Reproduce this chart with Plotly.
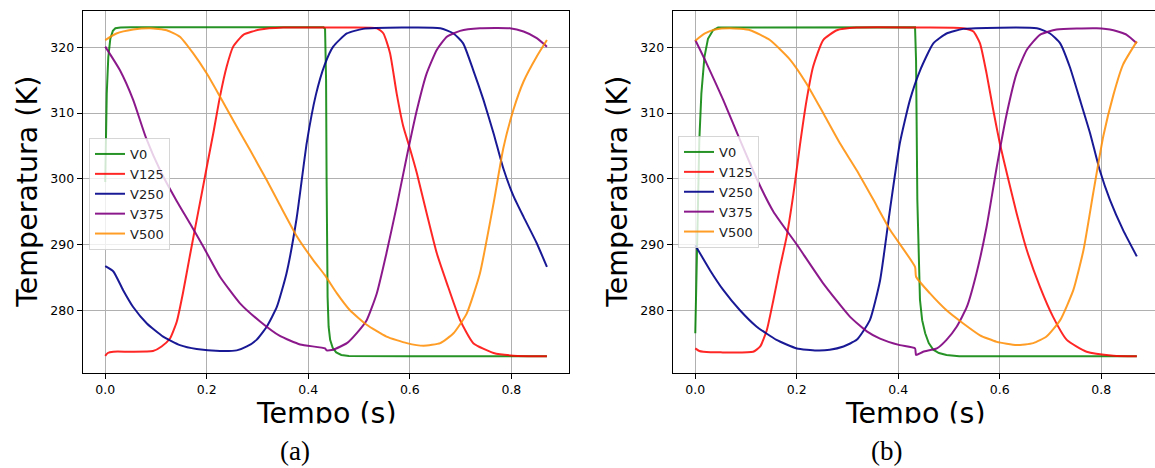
import plotly.graph_objects as go

# ---------------- data: panel (a) ----------------
t_a_v0 = [0, 0.001, 0.003, 0.006, 0.01, 0.015, 0.02, 0.03, 0.05, 0.2, 0.43, 0.433, 0.435, 0.436, 0.437, 0.438, 0.44, 0.443, 0.448, 0.455, 0.465, 0.48, 0.6, 0.87]
T_a_v0 = [299.5, 305, 313, 318.5, 321.3, 322.5, 322.9, 323, 323.05, 323.05, 323.05, 322.8, 315, 300, 290, 282, 277.5, 275.5, 274.3, 273.6, 273.2, 273.05, 273, 273]

t_a_v125 = [0, 0.005, 0.016, 0.05, 0.094, 0.111, 0.1275, 0.141, 0.153, 0.165, 0.177, 0.189, 0.2, 0.213, 0.226, 0.239, 0.252, 0.272, 0.305, 0.351, 0.45, 0.535, 0.548, 0.561, 0.574, 0.587, 0.599, 0.614, 0.633, 0.653, 0.673, 0.699, 0.725, 0.765, 0.804, 0.87]
T_a_v125 = [273.05, 273.5, 273.7, 273.7, 273.8, 274.5, 275.7, 278.3, 282.6, 287.6, 292.5, 297.3, 301.8, 307, 312.5, 317, 320.1, 321.9, 322.7, 323, 323, 322.9, 322.1, 319.1, 313, 308, 304.9, 300.8, 294.8, 288.7, 284.1, 278.5, 275, 273.5, 273.1, 273]

t_a_v250 = [0, 0.016, 0.035, 0.055, 0.082, 0.114, 0.147, 0.18, 0.226, 0.259, 0.279, 0.298, 0.318, 0.338, 0.357, 0.377, 0.397, 0.415, 0.432, 0.449, 0.476, 0.508, 0.66, 0.686, 0.705, 0.725, 0.745, 0.765, 0.784, 0.804, 0.824, 0.85, 0.87]
T_a_v250 = [286.7, 285.9, 283.1, 280.5, 278, 276, 274.7, 274.1, 273.8, 273.9, 274.5, 275.5, 277.5, 280.5, 285.6, 294, 305.5, 312.8, 317.3, 320.1, 322.1, 322.8, 322.9, 322.1, 320.6, 316.5, 312, 306.9, 301.6, 297.4, 294.2, 290.2, 286.6]

t_a_v375 = [0, 0.029, 0.055, 0.08, 0.11, 0.141, 0.167, 0.193, 0.226, 0.265, 0.305, 0.344, 0.384, 0.433, 0.436, 0.449, 0.476, 0.495, 0.515, 0.535, 0.554, 0.574, 0.594, 0.614, 0.633, 0.653, 0.673, 0.699, 0.738, 0.797, 0.824, 0.85, 0.87]
T_a_v375 = [320.1, 316.5, 312, 306.3, 301, 296.6, 293.2, 289.7, 285.1, 281.1, 278.3, 276.1, 274.8, 274.2, 273.9, 274, 275, 276.5, 278.5, 282.6, 288.7, 295.8, 303.4, 310.5, 316, 319.6, 321.6, 322.5, 322.9, 322.9, 322.4, 321.4, 320.1]

t_a_v500 = [0, 0.022, 0.055, 0.088, 0.121, 0.147, 0.173, 0.2, 0.226, 0.252, 0.285, 0.318, 0.344, 0.377, 0.41, 0.433, 0.456, 0.482, 0.515, 0.554, 0.594, 0.627, 0.66, 0.686, 0.712, 0.738, 0.765, 0.784, 0.804, 0.824, 0.85, 0.87]
T_a_v500 = [321.1, 322.1, 322.7, 322.9, 322.6, 321.6, 319.1, 316, 312.5, 308.9, 304.4, 299.8, 296, 291.3, 287.6, 285.3, 282.6, 280, 277.8, 276, 275, 274.6, 275, 276.5, 279.5, 285.6, 296.3, 304.6, 310.5, 314.8, 318.6, 321.1]

# ---------------- data: panel (b) ----------------
t_b_v0 = [0, 0.002, 0.005, 0.008, 0.012, 0.018, 0.025, 0.035, 0.045, 0.2, 0.433, 0.435, 0.4375, 0.4427, 0.447, 0.453, 0.46, 0.469, 0.48, 0.495, 0.52, 0.87]
T_b_v0 = [276.5, 285, 298, 306, 313, 318.5, 321.3, 322.6, 323, 323.05, 323.05, 318, 296.8, 281.6, 278.5, 276.5, 275, 274, 273.5, 273.2, 273, 273]

t_b_v125 = [0, 0.008, 0.016, 0.05, 0.114, 0.128, 0.141, 0.154, 0.167, 0.18, 0.193, 0.206, 0.219, 0.232, 0.252, 0.279, 0.318, 0.45, 0.528, 0.548, 0.561, 0.574, 0.587, 0.6, 0.614, 0.633, 0.653, 0.679, 0.705, 0.732, 0.771, 0.824, 0.87]
T_b_v125 = [274.2, 273.8, 273.7, 273.6, 273.7, 274.5, 277, 281.6, 286.6, 291.2, 297.5, 305, 311.8, 317, 321.1, 322.6, 323, 323, 322.9, 322.4, 320.6, 316, 310.5, 305.4, 300.8, 294.8, 289.2, 283.6, 279, 275.5, 273.7, 273.1, 273]

t_b_v250 = [0, 0.029, 0.055, 0.088, 0.121, 0.16, 0.2, 0.239, 0.265, 0.292, 0.318, 0.344, 0.364, 0.384, 0.403, 0.423, 0.443, 0.469, 0.495, 0.528, 0.673, 0.699, 0.719, 0.738, 0.758, 0.778, 0.797, 0.817, 0.843, 0.87]
T_b_v250 = [289.9, 286.1, 283.1, 280, 277.5, 275.5, 274.2, 273.9, 274, 274.5, 275.5, 278.5, 284.5, 295.5, 305.4, 312, 316.5, 320.6, 322.1, 322.8, 322.9, 322.1, 320.6, 317, 312, 306.9, 301.3, 296.8, 292.2, 288.2]

t_b_v375 = [0, 0.022, 0.055, 0.088, 0.121, 0.154, 0.2, 0.252, 0.305, 0.338, 0.364, 0.403, 0.433, 0.435, 0.449, 0.476, 0.495, 0.515, 0.535, 0.554, 0.574, 0.594, 0.614, 0.633, 0.653, 0.679, 0.712, 0.791, 0.824, 0.85, 0.87]
T_b_v375 = [321.1, 317.6, 312, 305.9, 300, 295, 290, 284.1, 279, 276.8, 275.7, 274.7, 274.2, 273.2, 273.7, 274.2, 275.5, 277.5, 280.5, 285.6, 292.7, 301.8, 310, 316, 319.6, 321.9, 322.7, 322.9, 322.6, 321.9, 320.6]

t_b_v500 = [0, 0.019, 0.039, 0.068, 0.108, 0.147, 0.187, 0.219, 0.252, 0.285, 0.318, 0.351, 0.384, 0.433, 0.435, 0.462, 0.495, 0.528, 0.561, 0.594, 0.633, 0.666, 0.692, 0.719, 0.745, 0.765, 0.784, 0.804, 0.824, 0.843, 0.87]
T_b_v500 = [321, 322.1, 322.7, 322.9, 322.6, 321.1, 318.1, 314.5, 310, 305.4, 301.3, 296.8, 292.2, 286.6, 285.1, 282.6, 280, 278, 276.2, 275.2, 274.7, 275, 276, 278.5, 283.1, 289.2, 297.8, 306.5, 312.8, 317.4, 320.9]

series_names = ["V0", "V125", "V250", "V375", "V500"]
x_tick_vals = [0.0, 0.2, 0.4, 0.6, 0.8]
x_tick_text = ["0.0", "0.2", "0.4", "0.6", "0.8"]
y_tick_vals = [280, 290, 300, 310, 320]
y_tick_text = ["280", "290", "300", "310", "320"]
captions = ["(a)", "(b)"]
x_title = "Tempo (s)"
y_title = "Temperatura (K)"

colors = ["rgba(0,128,0,0.85)", "rgba(255,0,0,0.85)", "rgba(0,0,139,0.9)",
          "rgba(128,0,128,0.9)", "rgba(255,140,0,0.85)"]
shapes_line = ["linear", "spline", "spline", "spline", "spline"]

panel_a = [(t_a_v0, T_a_v0), (t_a_v125, T_a_v125), (t_a_v250, T_a_v250),
           (t_a_v375, T_a_v375), (t_a_v500, T_a_v500)]
panel_b = [(t_b_v0, T_b_v0), (t_b_v125, T_b_v125), (t_b_v250, T_b_v250),
           (t_b_v375, T_b_v375), (t_b_v500, T_b_v500)]

W, H = 1155, 468
def px(x):
    return x / W
def py(y):
    return 1 - y / H

fig = go.Figure()
for (t, T), name, c, sh in zip(panel_a, series_names, colors, shapes_line):
    fig.add_trace(go.Scatter(x=t, y=T, mode="lines", name=name,
                             line=dict(color=c, width=2, shape=sh, smoothing=0.5),
                             xaxis="x", yaxis="y", legend="legend"))
for (t, T), name, c, sh in zip(panel_b, series_names, colors, shapes_line):
    fig.add_trace(go.Scatter(x=t, y=T, mode="lines", name=name,
                             line=dict(color=c, width=2, shape=sh, smoothing=0.5),
                             xaxis="x2", yaxis="y2", legend="legend2"))

tickfont = dict(family="DejaVu Sans", size=12.5, color="black")
ax_common = dict(showgrid=True, gridcolor="#b0b0b0", gridwidth=1, zeroline=False,
                 showline=True, linecolor="black", linewidth=1.2,
                 ticks="outside", ticklen=5, tickwidth=1.1, tickcolor="black",
                 tickfont=tickfont)

y_dom = [py(373), py(11)]
y_rng = [270.46, 325.52]

fig.update_layout(
    width=W, height=H,
    margin=dict(l=0, r=0, t=0, b=0),
    paper_bgcolor="white", plot_bgcolor="white",
    showlegend=True,
    xaxis=dict(domain=[px(82.7), px(569)], range=[-0.0444, 0.9135], anchor="y",
               tickvals=x_tick_vals, ticktext=x_tick_text, mirror=True, **ax_common),
    yaxis=dict(domain=y_dom, range=y_rng, anchor="x",
               tickvals=y_tick_vals, ticktext=y_tick_text, mirror=True, **ax_common),
    xaxis2=dict(domain=[px(672.7), 1.0], range=[-0.0445, 0.9058], anchor="y2",
                tickvals=x_tick_vals, ticktext=x_tick_text, mirror=True, **ax_common),
    yaxis2=dict(domain=y_dom, range=y_rng, anchor="x2",
                tickvals=y_tick_vals, ticktext=y_tick_text, mirror=False, **ax_common),
    legend=dict(x=px(89), y=py(138), xanchor="left", yanchor="top",
                bgcolor="rgba(255,255,255,0.8)", bordercolor="rgba(204,204,204,0.8)",
                borderwidth=1, font=dict(family="DejaVu Sans", size=13, color="#222")),
    legend2=dict(x=px(678), y=py(136), xanchor="left", yanchor="top",
                 bgcolor="rgba(255,255,255,0.8)", bordercolor="rgba(204,204,204,0.8)",
                 borderwidth=1, font=dict(family="DejaVu Sans", size=13, color="#222")),
)

title_font = dict(family="DejaVu Sans", size=28.5, color="black")
ann = []
# y titles
for xc in (26.8, 616.8):
    ann.append(dict(text=y_title, x=px(xc), y=py(192), xref="paper", yref="paper",
                    xanchor="center", yanchor="middle", textangle=-90,
                    showarrow=False, font=title_font))
# x titles (clipped at bottom)
for xc in (326, 915.8):
    ann.append(dict(text=x_title, x=px(xc), y=py(413.6), xref="paper", yref="paper",
                    xanchor="center", yanchor="middle", showarrow=False, font=title_font))
# white covers to clip x titles
for xc in (326, 915.8):
    ann.append(dict(text=".", x=px(xc), y=py(433), xref="paper", yref="paper",
                    xanchor="center", yanchor="middle", showarrow=False,
                    width=240, height=18, bgcolor="white", borderpad=0,
                    font=dict(color="white", size=6)))
# captions
for xc, cap in zip((295, 886), captions):
    ann.append(dict(text=cap, x=px(xc), y=0, xref="paper", yref="paper",
                    xanchor="center", yanchor="bottom", showarrow=False,
                    font=dict(family="Liberation Serif", size=27, color="black")))
fig.update_layout(annotations=ann)

fig.write_html("out.html")
